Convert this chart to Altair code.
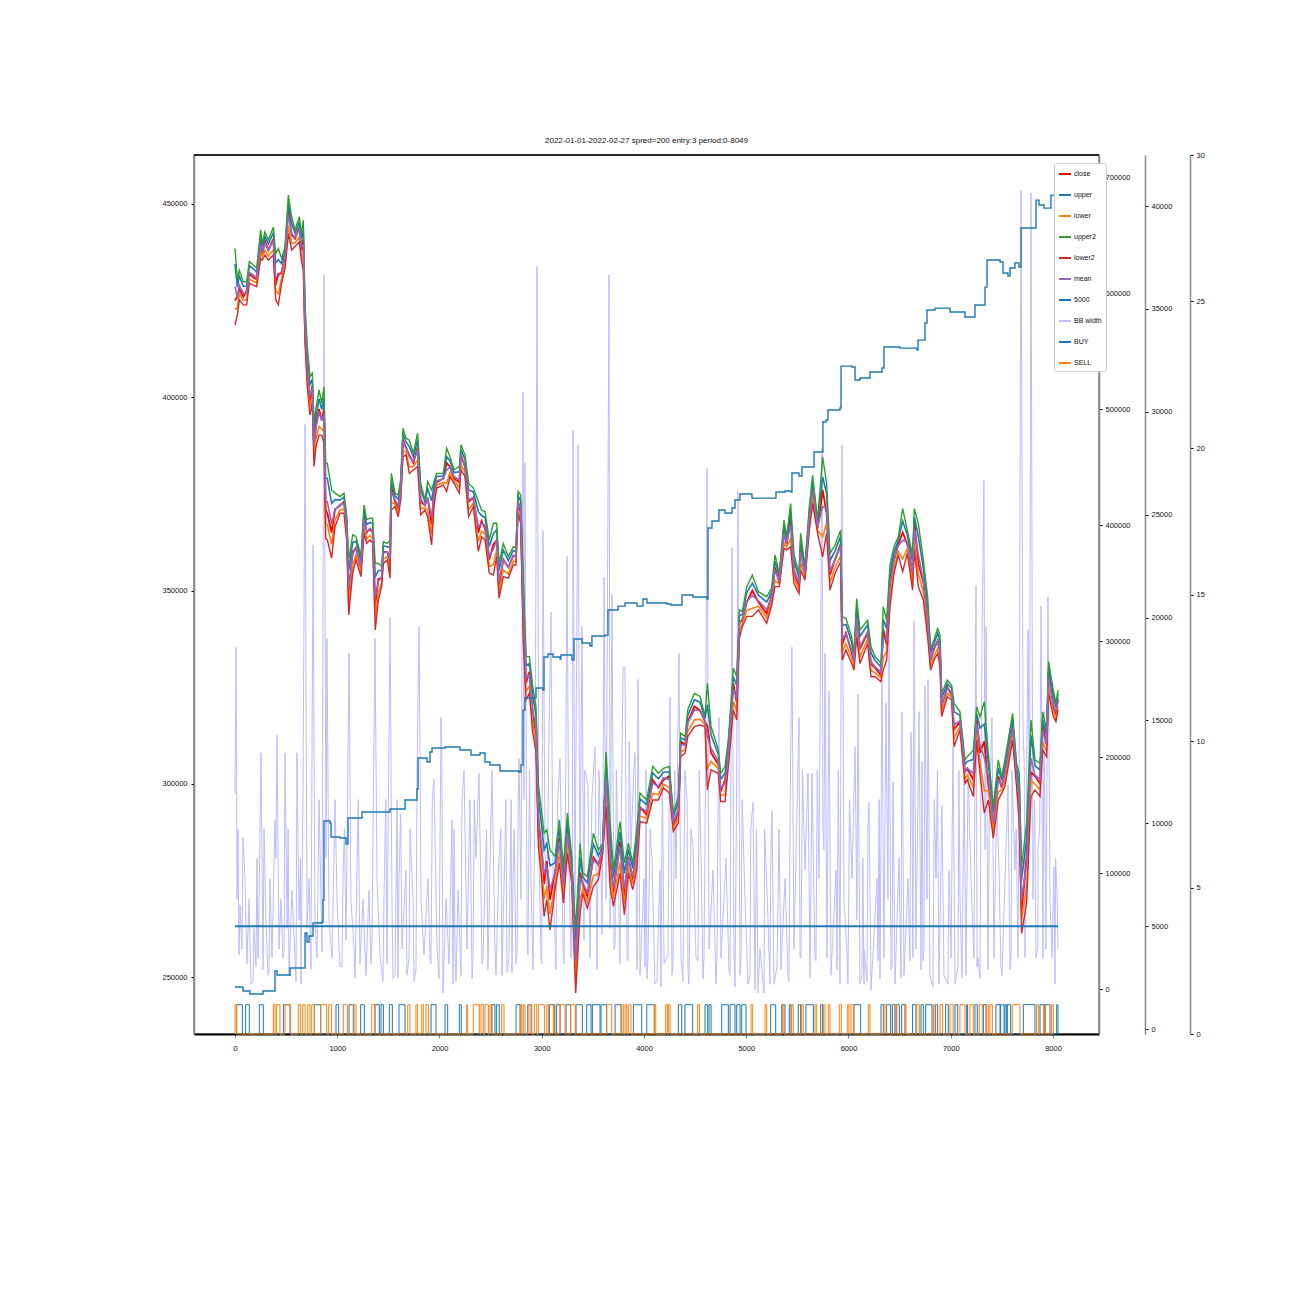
import pandas as pd
import altair as alt

FONT = "Liberation Sans"

# price series, all in thousands, same x positions
price_x = [0,23,42,81,114,140,179,212,251,267,293,326,375,398,424,456,489,522,554,587,629,649,668,685,707,733,756,773,792,822,848,870,887,903,945,978,1027,1066,1092,1112,1151,1183,1232,1262,1288,1320,1346,1372,1402,1434,1451,1490,1516,1529,1565,1597,1620,1643,1672,1705,1744,1786,1816,1858,1884,1923,1946,1972,2037,2070,2103,2142,2194,2210,2249,2285,2331,2380,2412,2445,2487,2527,2559,2582,2624,2673,2722,2748,2768,2794,
2820,2846,2879,2912,2944,2967,3000,3023,3049,3081,3130,3172,3212,3251,3293,3332,3375,3401,3446,3505,3554,3596,3629,3668,3701,3766,3808,3847,3890,3929,3961,4027,4085,4141,4190,4248,4287,4336,4359,4402,4428,4493,4548,4597,4620,4656,4727,4750,4793,4825,4874,4907,4933,4962,5005,5060,5119,5200,5249,
5281,5323,5369,5395,5434,5467,5516,5532,5574,5617,5649,5698,5747,5786,5819,5868,5923,5939,5975,6031,6054,6080,6112,6187,6220,6259,6318,6340,6373,6406,6445,6487,6530,6575,6627,6644,6683,6732,6774,6803,6836,6872,6895,6911,6966,7009,7032,7090,7139,7162,7221,7253,7286,7328,7367,7416,7465,7498,7530,7605,7644,7670,7693,7742,7785,7824,7873,7899,7938,7957,8003,8029,8049]

upper2 = [438.5,430.3,432.9,429.9,429.9,435.1,434.2,433.4,443.3,439.8,442.8,440.7,444,437.2,438.5,435.9,438.9,452.3,446.7,443.3,446.7,442.4,445.8,423.4,413.1,405.3,406.2,393.3,397.1,401.9,398.4,402.7,383,382.9,376,375.2,374.3,375.2,369.6,357.9,364.4,364,358.8,372.1,368.3,368.7,368.7,357,357,356.2,362.6,362.2,363.1,380.3,375.2,374.7,378.6,392,389.4,388.9,385.5,390.7,377.7,373.4,378.2,376,378.2,380.3,380.3,386.8,384.6,381.2,382.1,387.7,385.1,377.7,376.5,373,370.8,370.4,363.1,367.4,367.4,357,362.2,358.8,361.4,360.9,375.6,374.7,
352.7,332.9,332.9,325.2,320,299.7,292.4,287.2,288.1,282.9,281.2,290.7,278.6,292.4,281.2,262.2,284.6,276.9,276,287.2,282.9,284.6,308.3,290.2,277.7,290.2,279.5,284.6,279.5,288.1,297.6,295.8,304.5,302.7,304,304.5,292.4,296.7,313.1,312.2,319.1,323.4,322.6,317.4,326,314.8,308.8,302.7,304.5,311.4,329.9,327.7,345,344.6,351,354,349.7,348.4,350.6,
359.2,354.4,368.2,363.9,372.5,359.2,354.4,364.8,356.2,371.7,379.8,368.2,384.6,377.7,359.6,361.7,365.6,343.2,342.8,338,333.7,347.9,339.8,342.3,335.5,332.9,331.2,345.8,342.3,356.6,361.3,363.9,371.2,365.6,359.2,371.2,367.3,357.9,348.4,335,337.2,340.2,338.5,323.4,326.8,325.5,320.8,318.6,306.2,307,308.7,319.9,317.3,321.2,307.9,294.1,306.2,301.8,306.2,318.2,305.3,302.7,278.6,289.8,316.5,306.2,305.3,318.6,313.9,331.6,324.2,320.8,324.2]

upper = [434.5,428.5,431.4,428.7,428.7,434,433.2,432.4,441.8,439,441.6,439.7,442.6,434.8,435.6,434.6,437.8,450.3,445,442.4,445.4,441,443.2,421.5,411,403.3,404.6,391,395.1,399.6,396.8,399.8,379.1,379,372.5,373.5,373.4,374.2,368.3,355.1,362.4,362.8,357.8,370.6,367.1,367.6,367.4,353.6,355.1,355.2,361.5,361.3,361.1,378.4,374.5,373.6,377.6,390.5,388.5,387.2,384.6,389,376.1,372.9,376.4,373.2,376.9,379.5,379.7,384.6,383.6,380.5,380.7,386.4,384,376,375.5,370.4,369.4,368.9,361.4,364.7,365.7,355.2,360.5,357.7,360.4,360,374.5,373.2,
349.4,330.7,331,322.8,317.7,296.5,288.9,282.9,284.5,278.8,279.5,288.5,276.7,290.3,279.8,259,281,275.9,274.4,284.4,281.4,284,305.5,286.8,275.8,287.5,276.8,283.1,278.1,286,296.1,294.6,302.8,301.3,303,303.1,291.5,295.3,311.9,311.3,317.7,321.7,321.1,316.9,320.5,312.6,307.6,301.2,302.7,310,327.7,325.5,343.5,343.8,349.5,351.9,348.8,347,349.7,
357.6,353.7,366.7,363.2,370.3,357.7,353.4,362.9,355.5,370.5,378.3,367.5,379.4,375.1,357.7,360.2,364,341,341.2,336.6,332.8,345.9,338.1,341.1,333.9,331.9,330.2,342.5,340.2,354.4,359.9,363,368,364.4,357.4,369.1,364,355.8,346.3,333.9,336.2,338.9,336.9,322.2,325.9,324.7,318.6,317.7,305,305.8,306.3,318.2,314.4,315.4,305.5,292.5,304.1,300.9,304.8,316.8,304.1,300.1,275.1,285.7,312.5,304.6,303.6,316.6,312.5,330,322.8,319.9,323.2]

mean = [428.6,425.8,429,426.9,426.9,432.3,431.6,431,439.6,437.6,439.8,438.1,440.4,431.2,431.2,432.7,436.1,447.3,442.4,441.2,443.5,439,439.4,418.6,407.9,400.4,402.3,387.7,392.2,396,394.3,395.4,373.3,373,367.2,370.9,372.2,372.6,366.4,350.8,359.5,361,356.2,368.5,365.3,365.9,365.5,348.4,352.3,353.6,359.8,360,358.2,375.6,373.5,371.9,376,388.3,387.2,384.6,383.4,386.4,373.7,372.1,373.7,368.9,375,378.4,378.8,381.2,382,379.5,378.6,384.5,382.3,373.4,374.1,366.5,367.4,366.8,358.8,360.7,363.1,352.5,357.9,356,359,358.8,372.8,371,
344.5,327.3,328.2,319.2,314.2,291.7,283.7,276.5,279,272.6,276.9,285.1,273.9,287.2,277.8,254,275.6,274.3,271.9,280.3,279,283.3,301.2,281.8,273,283.6,272.8,280.8,276,282.9,293.9,292.8,300.2,299.3,301.5,301.1,290,293.3,310.1,310.1,315.7,319.1,318.9,316.1,312.2,309.2,305.8,299,300,308,324.5,322.1,341.4,342.7,347.2,348.7,347.4,345,348.5,
355.1,352.7,364.6,362.2,366.9,355.5,351.8,360,354.5,368.7,376.2,366.5,371.7,371.3,354.9,358,361.5,337.6,338.7,334.6,331.6,343,335.5,339.3,331.6,330.3,328.8,337.6,337.2,351.2,357.9,361.6,363,362.6,354.7,365.9,359.2,352.7,343.2,332.2,334.6,337,334.4,320.4,324.7,323.6,315.2,316.3,303.2,304,302.7,315.6,310,306.8,301.9,290,301,299.7,302.8,314.8,302.3,296.3,270,279.5,306.6,302.3,301,313.7,310.5,327.5,320.8,318.5,321.7]

close = [425,426,428,426,427.5,432,431,430.5,440,437,440.5,438,441,429,432,432,437,449,442,441,444,438,441,417,406,399,403,386,393,397,394,397,371,370,365,371,372,373,366,349,360,361,356,369,365,366,365,346,353,353,360,360,357,377,373,371,376,389,387,385,383,387,373,372,374,367,376,378,379,383,382,379,378,385,382,373,374,365,368,366,358,362,363,351,358,356,359,359,373,370,
342,326,329,318,313,290,282,274,280,270,277,286,273,288,277,252,277,274,271,281,279,283,303,280,272,285,271,281,275,284,294,292,301,299,301,302,289,293,311,310,316,320,319,316,315,308,305,298,301,309,326,321,342,342,347,350,347,344,349,
356,352,365,362,369,355,351,361,354,369,377,366,376,370,354,358,362,336,339,334,331,344,335,339,331,330,328,340,336,353,358,362,365,362,354,368,357,352,342,332,335,337,334,320,325,323,314,316,303,304,301,317,308,311,300,289,302,299,303,315,302,294,267,281,303,302,300,315,310,329,320,318,322]

lower = [422.7,423.1,426.7,425.1,425.1,430.6,430,429.6,437.4,436.4,438,436.5,438.2,427.6,426.8,430.8,434.4,444.4,439.8,439.9,441.5,436.9,435.5,415.8,404.8,397.4,400,384.3,389.2,392.5,391.8,391,367.4,367,361.9,368.2,370.9,371,364.4,346.5,356.5,359.2,354.6,366.3,363.4,364.2,363.5,343.2,349.5,352,358.1,358.8,355.2,372.7,372.4,370.2,374.4,386.1,386,382,382.1,383.8,371.2,371.3,370.9,364.6,373,377.3,377.9,377.8,380.5,378.4,376.6,382.5,380.6,370.8,372.7,362.7,365.3,364.6,356.2,356.7,360.5,349.8,355.3,354.3,357.6,357.5,371.1,368.9,
339.7,323.9,325.3,315.5,310.6,287,278.5,270,273.6,266.3,274.3,281.7,271,284.1,275.7,249.2,270.1,272.7,269.4,276.2,276.7,282.5,296.9,276.8,270.2,279.6,268.8,278.4,274,279.8,291.7,291,297.5,297.2,299.9,299,288.6,291.2,308.3,308.8,313.6,316.5,316.7,315.3,303.9,305.8,303.9,296.9,297.2,305.9,321.3,318.7,339.2,341.5,344.8,345.4,345.9,342.9,347.2,
352.6,351.7,362.4,361.2,363.5,353.3,350.2,357.2,353.4,366.8,374,365.5,363.9,367.4,352,355.9,359,334.2,336.2,332.5,330.3,340,332.8,337.5,329.3,328.7,327.4,332.7,334.1,348,355.8,360.1,358.2,360.8,351.9,362.6,354.3,349.6,340.1,330.5,333,335,332,318.6,323.4,322.5,311.8,314.8,301.3,302.2,299.1,313,305.6,298.2,298.2,287.5,297.9,298.4,300.7,312.7,300.5,292.4,264.8,273.2,300.7,300,298.4,310.7,308.4,325,318.8,317,320.1]

lower2 = [418.7,421.3,425.2,423.9,423.9,429.5,429,428.6,435.9,435.5,436.8,435.5,436.8,425.2,423.9,429.5,433.3,442.4,438.1,439,440.2,435.5,432.9,413.9,402.7,395.4,398.4,382.1,387.2,390.2,390.2,388.1,363.5,363.1,358.4,366.5,370,370,363.1,343.7,354.5,358,353.6,364.8,362.2,363.1,362.2,339.8,347.6,351,357,357.9,353.2,370.8,371.7,369.1,373.4,384.6,385.1,380.3,381.2,382.1,369.6,370.8,369.1,361.8,371.7,376.5,377.3,375.6,379.5,377.7,375.2,381.2,379.5,369.1,371.7,360.1,363.9,363.1,354.5,354,358.8,348,353.6,353.2,356.6,356.6,370,367.4,
336.4,321.7,323.4,313.1,308.3,283.8,275,265.7,270,262.2,272.6,279.5,269.1,282,274.3,245.9,266.5,271.7,267.8,273.4,275.2,282,294.1,273.4,268.3,276.9,266.1,276.9,272.6,277.7,290.2,289.8,295.8,295.8,298.9,297.6,287.7,289.8,307.1,307.9,312.2,314.8,315.2,314.8,298.4,303.6,302.7,295.4,295.4,304.5,319.1,316.5,337.7,340.7,343.3,343.3,345,341.5,346.3,
351,351,360.9,360.5,361.3,351.8,349.2,355.3,352.7,365.6,372.5,364.8,358.7,364.8,350.1,354.4,357.4,332,334.6,331.1,329.4,338,331.1,336.3,327.7,327.7,326.4,329.4,332,345.8,354.4,359.2,354.9,359.6,350.1,360.5,351,347.5,338,329.4,332,333.7,330.3,317.4,322.5,321.7,309.6,313.9,300.1,301,296.7,311.3,302.7,292.4,295.8,285.9,295.8,297.5,299.3,311.3,299.3,289.8,261.3,269.1,296.7,298.4,296.7,308.7,307,323.4,317.4,316.1,319.1]

# right hand series
equity_x = [0,49,78,147,274,274,372,391,411,538,538,665,685,704,724,763,851,861,870,929,939,1027,1086,1095,1105,1232,1242,1399,1516,1663,1663,1780,1790,1878,1907,1927,2054,2201,2298,2308,2396,2445,2494,2592,2778,2797,2817,2836,2944,3012,3022,3061,3110,3179,3188,3276,3296,3315,3394,3472,3491,3619,3648,3746,3814,3932,3990,4029,4225,4264,4372,4372,4479,4616,4626,4665,4724,4733,4792,4861,4890,4939,5056,5281,5291,5379,5438,5447,5516,5545,5653,5663,5750,5750,5780,5799,5917,5927,6034,6064,6113,6210,6328,6347,6504,6670,6680,6748,6768,6846,6993,7139,7237,7335,7355,7482,7511,7560,7580,7628,7667,7687,7824,7834,7863,7912,7971,7980,8039,8049]
equity_k = [1.7,1.7,-1.7,-4.3,-4.3,-1.7,-1.7,15.5,12.1,11.2,18.1,18.1,48.3,40.5,45.7,56.9,57.8,76.7,144.8,143.1,131,130.2,125,125,147.4,147.4,152.6,152.6,155.2,155.2,162.9,172.4,199.1,195.7,204.3,207.7,208.6,206,206,201.7,203.4,195.7,193.1,187.9,187.1,193.1,240.5,250.8,259.5,257.7,286.2,288.8,286.2,284.5,287.9,287.9,283.6,301.7,298.3,295.7,304.3,305.1,326.7,330.1,332.7,330.1,336.2,332.7,331.9,331,331,339.6,337.9,336.2,397.4,403.4,403.4,412.9,410.3,414.6,421.5,426.7,423.2,423.2,428.4,429.3,428.4,444.8,442.2,450,450,462.9,463.8,488.8,490.5,499.1,500.8,537,536.2,525,526.7,531.9,535.3,553.4,552.5,550.8,559.4,574.1,585.3,587,583.6,579.3,589.6,605.1,628.4,626.7,617.2,614.6,621.5,625.8,622.4,656,656,680.1,675.8,673.2,673.2,684.4,683.6,683.6]

flat_x = [0, 8049]
flat_y = [5000, 5000]

bb_x = [0,10,20,29,49,68,98,117,137,156,186,205,235,254,274,303,323,342,362,391,411,430,450,469,489,509,528,557,587,606,626,645,665,685,704,724,743,763,782,802,822,841,861,870,890,900,919,949,978,998,1027,1056,1086,1115,1134,1164,1193,1222,1252,1281,1310,1340,1369,1389,1418,1457,1487,1516,1535,1565,1604,1633,1672,1702,1741,1770,1800,1819,1848,1888,1917,1946,1976,2015,2034,2064,2093,2122,2152,2181,2210,2240,2269,2298,2328,2357,2386,2416,2445,2474,2513,2543,2582,2611,2650,2680,2719,2748,2778,2797,2817,2826,2836,2856,2895,2914,2954,2973,2993,3012,3032,3051,3090,3110,3139,3179,3208,3247,3266,3286,3306,3325,3355,3374,3394,3413,3452,3472,3521,3540,3579,3609,3629,3658,3668,3687,3707,3746,3765,3795,3814,3834,3873,3912,3932,3941,3961,4000,4039,4078,4107,4156,4196,4254,4274,4313,4342,4362,4421,4440,4479,4509,4557,4587,4616,4636,4675,4704,4733,4753,4802,4831,4861,4880,4919,4939,4988,5017,5066,5086,5135,5174,5213,5252,5271,5311,5340,5379,5408,5447,5467,5516,5535,5575,5604,5624,5643,5672,5711,5741,5760,5770,5790,5809,5829,5878,5917,5936,5956,5995,6034,6064,6083,6093,6112,6152,6201,6220,6279,6308,6328,6347,6367,6386,6396,6416,6435,6455,6494,6523,6543,6582,6611,6630,6641,6660,6690,6709,6719,6738,6748,6768,6778,6797,6856,6885,6914,6934,6983,7003,7022,7042,7091,7110,7130,7149,7198,7227,7247,7266,7306,7325,7335,7345,7364,7403,7423,7472,7501,7560,7580,7628,7658,7687,7707,7726,7756,7785,7804,7834,7853,7883,7902,7912,7931,7951,7971,7990,8010,8020,8039,8049]
bb_width = [8.2,13.2,4.6,7,4.4,2.9,5.3,2.4,4.6,1.7,3.6,2.3,4.4,9.6,2.2,3.9,2,5.3,2.6,7.3,10.2,2.9,4.6,2.6,9.6,3.6,2,4.9,2.6,9.6,3.9,1.7,8,20.8,3.6,5.3,2.2,16.7,3.9,2.6,8,4.6,14.8,25.9,6,13.5,3.9,2.6,8,4.6,2.3,5.3,3.2,13,4.6,2.9,5.6,2.4,4.6,2,4.9,3.2,13.5,5.3,2.7,4.6,2.4,14.2,4.6,2,5.3,2.9,5.6,2.6,4.6,2.2,13.9,4.6,2.7,5.3,2.4,8.7,2.9,10.8,1.4,4.6,2.4,7.3,2.6,4.9,2,9,2.9,8,2.6,6,8.9,2.4,5.3,2.2,9,2.9,6,2,8,2.6,5.3,2.4,9.4,4.6,21.9,8,19.5,3.6,5.3,2.2,26.2,6,2.6,17.2,6.3,4.6,14.4,5.3,2.2,9.4,2.9,16.3,5.6,2.6,20.6,4.6,20.1,4.9,13.9,3.2,8.5,2.6,9.8,2.2,6,15.6,4.6,25.9,3.6,15,2.9,6,2.4,12.5,12.5,2.6,6.3,9.6,2.2,12.1,2,5.3,2.6,6,1.7,5.6,2.4,11.5,2,5.3,13,2.6,8,1.7,6.4,2.6,6.3,2.6,19.3,2.9,5.6,1.7,10.8,2.6,6,2.2,16.6,2.9,18.5,2,4.6,1.7,7.9,1.5,2.9,1.4,3.9,7.6,1.7,4.6,2.2,5.3,2,13.2,2.9,10.8,2.6,5.6,8.9,1.9,8.9,2.6,5.3,20,6.3,13,2.6,11.7,2,5.6,1.7,20.1,4.6,1.7,5.3,9.8,3.9,11.6,1.7,2.9,7.9,1.5,5.3,1.9,12.1,2.6,11.3,4.6,13.5,2.2,8.6,1.7,6,11,2,5.3,10.3,2.6,14.1,2.9,11,2.2,9.3,2.9,11.9,4.6,12.1,2,5.3,1.7,7.8,2,5.6,2.6,9.8,1.7,4.6,1.9,8.8,2,5.3,2.6,15.3,2.6,13.5,18.9,6.3,13.9,2.2,10.8,2.6,5.6,2,8.5,2.2,5.6,2.6,28.8,10.5,2.6,13.8,28.7,4.6,2.6,6.3,14.6,2.6,11,2.9,14.9,4.6,2.6,5.7,1.7,4.9,2.9]

# finer readings of the BB width body, troughs and lower peaks
bb_x_more = [39,78,176,215,225,284,333,400,480,520,597,640,851,1046,1070,1174,1205,1330,1350,1447,1475,1545,1585,1594,1620,1682,1712,1751,1780,1907,1930,1995,2024,2132,2142,2162,2220,2318,2340,2426,2460,2553,2600,2660,2700,2709,2730,2758,2770,2865,2880,2935,3000,3070,3155,3218,3235,3300,3420,3490,3560,3589,3600,3717,3730,3780,3844,3855,3900,4010,4020,4029,4060,4127,4166,4180,4235,4262,4284,4300,4381,4400,4430,4460,4528,4540,4577,4600,4714,4722,4841,4850,4890,4905,4949,4960,5037,5045,5100,5115,5180,5232,5240,5301,5320,5418,5430,5526,5550,5682,5695,5750,5888,5900,5985,6010,6132,6140,6152,6181,6190,6289,6300,6426,6513,6530,6601,6620,6729,6826,6840,6870,6973,7071,7080,7170,7257,7286,7295,7380,7450,7491,7590,7600,7640,7658,7670,7720,7770,7820,7853,7870,8020,8025]
bb_more = [2.7,6.7,1.8,6,2.6,7,2.1,6,2.9,7,1.8,6,2.8,2.3,7,1.9,8,2.4,7,1.8,8,1.9,8,1.9,7.5,2,7,1.8,9,2.5,8,1.9,9,1.7,7,1.8,8,1.9,8,2.6,7,2,7,2.1,8,2.1,7,2.7,8,2.7,9,8,2.4,10,8,2.4,9,5,9,8,9,3.4,8,3,9,8,2.5,10,9,2.3,9,1.9,7,1.8,1.6,9,2.7,8,2.5,9,1.8,9,2.2,7,2.5,9,1.9,8,2.6,7,2,9,1.6,8,2.6,8,2,7,7,1.4,7,1.7,6,2.3,7,1.8,8,2.6,9,2.5,9,7,2.2,9,2.8,8,2,6,1.7,1.8,7,2.5,8,2.3,1.9,8,2.5,9,2.5,1.6,8,9,1.7,2.3,9,9,2.3,1.9,8,8,8,2.3,2.6,9,7,2.8,9,9,7,8,3,7,1.9,6]

# positions held, start and end of each pulse
buy_start = [16,104,238,473,776,988,1115,1229,1369,1428,1509,1604,1917,2054,2194,2513,2559,2749,2863,3075,3146,3238,3335,3440,3495,3580,3717,3896,4027,4336,4401,4597,4636,4760,4842,4907,4956,5239,5347,5421,5509,5584,5728,6054,6318,6373,6429,6471,6520,6627,6709,6755,6852,6950,7042,7156,7237,7319,7442,7488,7531,7553,7710,7873,7922,8036]
buy_end = [72,140,277,538,838,1014,1157,1265,1411,1451,1539,1663,1966,2080,2213,2543,2585,2788,2902,3123,3179,3283,3397,3482,3570,3635,3775,3978,4101,4369,4476,4623,4656,4825,4890,4939,4998,5288,5379,5438,5532,5656,5747,6119,6341,6412,6455,6497,6553,6660,6732,6817,6872,6976,7068,7165,7260,7345,7482,7521,7547,7586,7824,7912,7971,8049]
sell_start = [0,375,407,489,619,662,711,750,838,916,1059,1164,1337,1689,1770,1826,1868,2266,2331,2406,2445,2494,2608,2788,2820,2876,2928,2967,3049,3114,3179,3283,3635,3782,3815,3847,4101,4212,4238,4525,5047,5184,5356,5444,5542,5672,5754,5803,5910,5992,6024,6194,6347,6455,6553,6667,6830,6895,6993,7090,7188,7279,7351,7384,7602,7840,7912,7987]
sell_end = [16,391,440,544,642,685,733,776,896,945,1099,1183,1369,1711,1786,1842,1891,2272,2390,2429,2478,2510,2631,2804,2837,2895,2951,3026,3065,3130,3228,3326,3684,3798,3831,3873,4115,4229,4255,4542,5063,5200,5369,5460,5558,5689,5770,5819,5930,6005,6047,6210,6367,6471,6562,6693,6846,6921,7025,7139,7221,7312,7368,7407,7677,7860,7928,8003]

legend_names = ["close", "upper", "lower", "upper2", "lower2", "mean", "5000", "BB width", "BUY", "SELL"]
legend_colors = ["#ff0000", "#1f77b4", "#ff7f0e", "#2ca02c", "#d62728", "#9467bd", "#1f77b4", "#bcbcff", "#1f77b4", "#ff7f0e"]

x_ticks = [0, 1000, 2000, 3000, 4000, 5000, 6000, 7000, 8000]

x_scale = alt.Scale(domain=[-401, 8450], nice=False)
color_scale = alt.Scale(domain=legend_names, range=legend_colors)
legend = alt.Legend(title=None, orient="none", legendX=860, legendY=8, symbolType="stroke", symbolSize=144,
                    symbolStrokeWidth=2, rowPadding=10, labelOffset=2, labelFontSize=7, labelFont=FONT,
                    labelColor="#111", fillColor="white", strokeColor="#ccc", cornerRadius=2, padding=4,
                    symbolLimit=10, labelLimit=40)


def layer(xs, ys, name, domain, axis=None, width=1.0, interpolate="linear"):
    df = pd.DataFrame({"x": xs, "y": ys, "series": name, "i": range(len(xs))})
    return alt.Chart(df).mark_line(strokeWidth=width, interpolate=interpolate).encode(
        x=alt.X("x:Q", scale=x_scale, title=None,
                axis=alt.Axis(values=x_ticks, grid=False, tickSize=4, tickColor="#888", domainColor="black",
                              domainWidth=2, labelPadding=6, format="d")),
        y=alt.Y("y:Q", scale=alt.Scale(domain=domain, nice=False), title=None, axis=axis),
        color=alt.Color("series:N", scale=color_scale, legend=legend),
        order="i:Q",
    )


def k(values):
    return [v * 1000 for v in values]


def pulses(starts, ends):
    xs, ys = [], []
    for s, e in zip(starts, ends):
        xs += [s, s, e, e]
        ys += [0, 1, 1, 0]
    return xs, ys


price_dom = [235254, 462677]
equity_dom = [-38793, 718966]
flat_dom = [-243, 42479]
bb_dom = [0, 30]

price_axis = alt.Axis(values=[250000, 300000, 350000, 400000, 450000], grid=False, orient="left", format="d",
                      tickSize=3, tickColor="black", domainColor="#888", domainWidth=1.5, labelPadding=4)
equity_axis = alt.Axis(values=[0, 100000, 200000, 300000, 400000, 500000, 600000, 700000], grid=False, orient="right",
                       format="d", tickSize=3, tickColor="black", domainColor="#888", domainWidth=1.5, labelPadding=3)
flat_axis = alt.Axis(values=list(range(0, 45000, 5000)), grid=False, orient="right", offset=46, format="d",
                     tickSize=3, tickColor="black", domainColor="#888", domainWidth=1.5, labelPadding=3)
bb_axis = alt.Axis(values=[0, 5, 10, 15, 20, 25, 30], grid=False, orient="right", offset=91, format="d",
                   tickSize=3, tickColor="black", domainColor="#888", domainWidth=1.5, labelPadding=3)

buy_x, buy_y = pulses(buy_start, buy_end)
sell_x, sell_y = pulses(sell_start, sell_end)
bb_pairs = sorted(zip(bb_x + bb_x_more, bb_width + bb_more))

top_line = alt.Chart(pd.DataFrame({"a": [0]})).mark_rule(color="black", strokeWidth=1.5).encode(
    x=alt.value(0), x2=alt.value(905), y=alt.value(0))

chart = alt.layer(
    layer([p[0] for p in bb_pairs], [p[1] for p in bb_pairs], "BB width", bb_dom, bb_axis, 1.0),
    layer(price_x, k(close), "close", price_dom, price_axis, 1.8),
    layer(price_x, k(upper), "upper", price_dom, None, 1.6),
    layer(price_x, k(lower), "lower", price_dom, None, 1.6),
    layer(price_x, k(upper2), "upper2", price_dom, None, 1.4),
    layer(price_x, k(lower2), "lower2", price_dom, None, 1.4),
    layer(price_x, k(mean), "mean", price_dom, None, 1.6),
    layer(equity_x, k(equity_k), "5000", equity_dom, equity_axis, 1.4, "step-after"),
    layer(flat_x, flat_y, "5000", flat_dom, flat_axis, 2),
    layer(buy_x, buy_y, "BUY", bb_dom),
    layer(sell_x, sell_y, "SELL", bb_dom),
    top_line,
).resolve_scale(y="independent").properties(
    width=905, height=879,
    autosize=alt.AutoSizeParams(type="none"),
    padding={"left": 186, "top": 147, "right": 180, "bottom": 240},
    title=alt.TitleParams("2022-01-01-2022-02-27 spred=200 entry:3 period:0-8049", fontSize=8, font=FONT,
                          fontWeight="normal", color="#111", offset=6),
).configure_view(stroke="#888", strokeWidth=1.5).configure_axis(labelFont=FONT, labelFontSize=7.5, labelColor="#111")

chart.save("out.html", embed_options={"renderer": "svg", "actions": False})
